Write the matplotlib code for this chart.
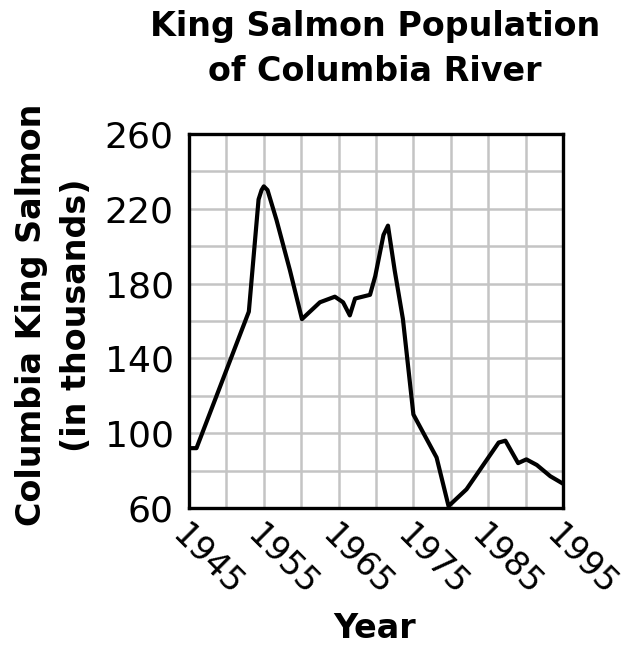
import matplotlib
matplotlib.use('Agg')
import matplotlib.pyplot as plt
from matplotlib.ticker import MultipleLocator

years = [1945, 1946, 1953, 1954.3, 1954.7, 1955, 1955.5, 1956.7, 1958.5, 1960.1,
         1962.5, 1964.5, 1965.6, 1966.5, 1967.2, 1969.2, 1969.9, 1971.0,
         1971.6, 1972.5, 1973.6, 1975, 1978.1, 1979.7, 1982.1, 1986.4,
         1987.3, 1989.0, 1990.1, 1991.5, 1993.3, 1995]
salmon = [92, 92, 165, 225, 230, 232, 230, 214, 187, 161,
          170, 173, 170, 163, 172, 174, 184, 206,
          211, 187, 161, 110, 87, 61, 70, 95,
          96, 84, 86, 83, 77, 73]

x_ticks = [1945, 1955, 1965, 1975, 1985, 1995]
y_ticks = [60, 100, 140, 180, 220, 260]

fig = plt.figure(figsize=(6.26, 6.47), dpi=100)
ax = fig.add_axes([189 / 626, 1 - 508 / 647, 374 / 626, 374 / 647])

ax.plot(years, salmon, color='black', linewidth=3.0, solid_joinstyle='round')

ax.set_xlim(1945, 1995)
ax.set_ylim(60, 260)
ax.xaxis.set_minor_locator(MultipleLocator(5))
ax.yaxis.set_minor_locator(MultipleLocator(20))
ax.set_xticks(x_ticks)
ax.set_yticks(y_ticks)
ax.grid(True, which='both', color='#c4c4c4', linewidth=1.8)
ax.set_axisbelow(True)
ax.tick_params(which='both', length=0)
ax.tick_params(axis='y', labelsize=26, pad=11)
ax.set_xticklabels([str(y) for y in x_ticks], fontsize=24, rotation=-45,
                   ha='left', va='top', rotation_mode='anchor')
ax.tick_params(axis='x', pad=8)
for spine in ax.spines.values():
    spine.set_linewidth(2.4)

fig.text(375 / 626, 1 - 49 / 647, 'King Salmon Population\nof Columbia River',
         ha='center', va='center', fontsize=24, fontweight='bold', linespacing=1.45)
fig.text(54 / 626, 1 - 315 / 647, 'Columbia King Salmon\n(in thousands)',
         ha='center', va='center', rotation=90, fontsize=24, fontweight='bold',
         linespacing=1.45)
fig.text(375 / 626, 1 - 628 / 647, 'Year', ha='center', va='center',
         fontsize=24, fontweight='bold')

fig.savefig('out.png', dpi=100)
